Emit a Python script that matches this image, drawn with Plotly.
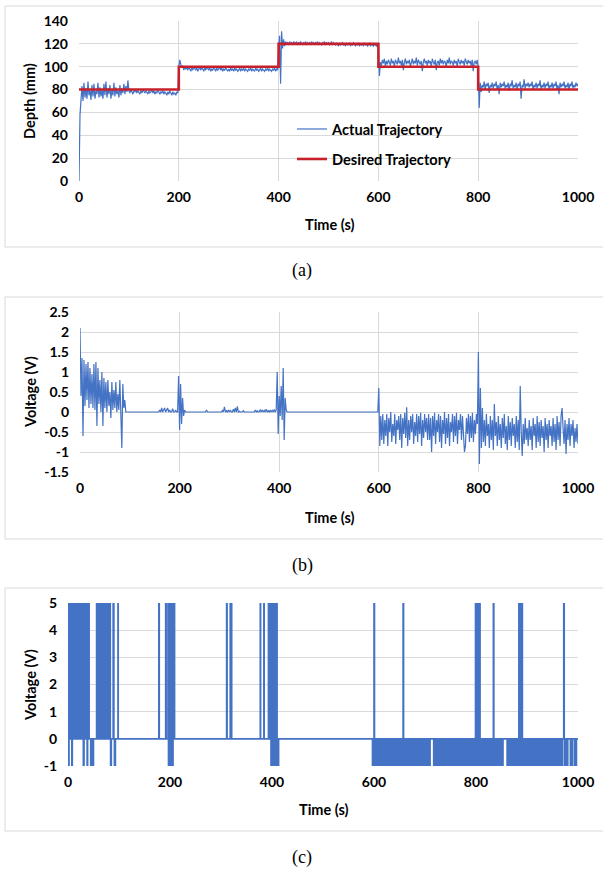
import plotly.graph_objects as go

W, H = 603, 871

# ---------------- (a) depth tracking ----------------
a_desired_time = [0, 200, 200, 400, 400, 600, 600, 800, 800, 1000]
a_desired_depth = [80, 80, 100, 100, 120, 120, 100, 100, 80, 80]

# actual depth, sampled every 2 s from 0 to 1000 s
a_actual_depth = [
    0, 58, 71, 83, 70, 86, 73, 81, 72, 87, 75, 80, 71, 84, 74, 85, 72, 79, 76, 86,
    73, 82, 74, 80, 72, 85, 75, 87, 73, 81, 76, 84, 72, 80, 75, 86, 74, 82, 76, 79,
    73, 84, 75, 81, 77, 85, 76, 83, 78, 88,
    79, 77, 80, 78, 76, 79, 78, 80, 77, 79, 78, 76, 79, 77, 80, 78, 77, 79, 78, 76,
    79, 77, 78, 80, 77, 79, 76, 78, 77, 79, 78, 76, 78, 77, 79, 76, 78, 77, 75, 78,
    76, 79, 77, 75, 78, 76, 77, 75, 78, 77,
    100, 106, 102, 99, 101, 97, 100, 98, 99, 97, 100, 98, 96, 99, 97, 100, 98, 97, 99, 96,
    98, 100, 97, 99, 98, 96, 99, 97, 100, 98, 97, 99, 96, 98, 97, 99, 98, 96, 99, 97,
    98, 100, 97, 99, 96, 98, 97, 99, 98, 96,
    98, 96, 99, 97, 98, 96, 99, 97, 98, 96, 97, 99, 96, 98, 97, 99, 96, 98, 97, 96,
    98, 97, 99, 96, 98, 97, 96, 99, 97, 98, 96, 97, 99, 96, 98, 97, 96, 98, 97, 99,
    96, 98, 97, 96, 98, 97, 99, 96, 98, 97,
    115, 127, 85, 131, 116, 124, 118, 122, 120, 121, 119, 122, 120, 121, 119, 122, 121, 120, 122, 119,
    121, 120, 122, 121, 119, 121, 120, 122, 119, 121, 120, 121, 119, 122, 120, 121, 119, 121, 120, 122,
    119, 121, 120, 119, 121, 120, 122, 119, 121, 120,
    121, 119, 120, 122, 119, 121, 120, 119, 121, 120, 118, 121, 119, 120, 121, 119, 120, 118, 121, 119,
    120, 121, 118, 120, 119, 121, 120, 118, 120, 119, 121, 118, 120, 119, 120, 118, 121, 119, 120, 118,
    119, 121, 118, 120, 119, 118, 120, 119, 118, 120,
    118, 92, 104, 101, 106, 103, 107, 100, 105, 102, 106, 104, 101, 107, 103, 105, 100, 106, 104, 102,
    108, 103, 105, 101, 106, 97, 104, 107, 102, 105, 103, 106, 100, 104, 107, 102, 105, 103, 108, 101,
    106, 104, 102, 105, 96, 104, 107, 103, 105, 101,
    106, 103, 105, 100, 107, 104, 102, 106, 97, 104, 105, 101, 107, 103, 106, 102, 105, 104, 100, 106,
    103, 108, 102, 105, 104, 101, 106, 103, 105, 100, 107, 104, 102, 106, 103, 105, 101, 107, 104, 102,
    106, 103, 105, 101, 106, 96, 104, 105, 102, 106,
    100, 64, 86, 78, 84, 82, 87, 80, 85, 83, 86, 77, 84, 82, 86, 81, 85, 83, 87, 80,
    84, 76, 86, 82, 85, 83, 87, 81, 84, 82, 86, 79, 85, 83, 88, 81, 84, 82, 86, 80,
    85, 83, 87, 72, 84, 82, 89, 81, 85, 83,
    86, 82, 85, 83, 87, 80, 84, 82, 86, 81, 85, 83, 88, 80, 84, 82, 86, 81, 85, 83,
    87, 80, 84, 82, 86, 81, 85, 83, 87, 80, 84, 76, 86, 82, 85, 83, 87, 81, 84, 82,
    86, 80, 85, 83, 87, 81, 84, 82, 86, 83, 85,
]
a_actual_time = [2 * i for i in range(len(a_actual_depth))]

# ---------------- (b) control voltage ----------------
b_voltage = [
    2.1, 0.4, 1.35, -0.6, 1.3, 0.15, 1.2, 0.3, 1.25, 0.1, 1.1, 0.2, 0.95, 0.1, 1.2, 0.05, 1.25, -0.35, 1.1, 0.2,
    0.8, 0.0, 1.0, -0.35, 0.85, 0.1, 0.75, 0.0, 0.8, 0.15, 0.5, -0.15, 0.75, 0.05, 0.55, 0.1, 0.75, 0.0, 0.45, 0.05,
    0.8, 0.0, -0.9, 0.7, 0.1, 0.3, 0.0, 0.0, 0.0, 0.0,
    0, 0, 0, 0, 0, 0, 0, 0, 0, 0, 0, 0, 0, 0, 0, 0, 0, 0, 0, 0,
    0, 0, 0, 0, 0, 0, 0, 0, 0, 0, 0.05, 0, 0.1, 0, 0.05, 0.1, 0, 0.05, 0.1, 0,
    0.05, 0, 0, 0.08, 0, 0, 0.05, 0, 0, 0.9,
    -0.45, 0.7, -0.3, 0.35, -0.1, 0.05, 0, 0, 0, 0, 0, 0, 0, 0, 0, 0, 0, 0, 0, 0,
    0, 0, 0, 0, 0, 0, 0, 0.05, 0, 0, 0, 0, 0, 0, 0, 0, 0, 0, 0, 0,
    0, 0, 0, 0.04, 0, 0.13, 0, 0.03, 0, 0.05,
    0, 0.05, 0, 0, 0.07, 0, 0.1, 0, 0.14, 0, 0.02, 0, 0, 0, 0.03, 0, 0, 0, 0, 0,
    0, 0, 0, 0, 0, 0, 0.05, 0, 0.03, 0, 0, 0.06, 0, 0.05, 0, 0.04, 0, 0.07, 0, 0.03,
    0, 0.05, 0, 0.04, 0, 0.06, 0, 0.05, 1.0, -0.55,
    0.4, -0.1, 0.65, -0.2, 1.1, -0.7, 0.35, 0.05, 0, 0, 0, 0, 0, 0, 0, 0, 0, 0, 0, 0,
    0, 0, 0, 0, 0, 0, 0, 0, 0, 0, 0, 0, 0, 0, 0, 0, 0, 0, 0, 0,
    0, 0, 0, 0, 0, 0, 0, 0, 0, 0,
    0, 0, 0, 0, 0, 0, 0, 0, 0, 0, 0, 0, 0, 0, 0, 0, 0, 0, 0, 0,
    0, 0, 0, 0, 0, 0, 0, 0, 0, 0, 0, 0, 0, 0, 0, 0, 0, 0, 0, 0,
    0, 0, 0, 0, 0, 0, 0, 0, 0, 0,
    0.6, -0.85, -0.1, -0.7, -0.05, -0.8, -0.2, -0.6, -0.05, -0.85, -0.15, -0.5, 0.0, -0.75, -0.3, -0.6, -0.05, -0.8, -0.2, -0.45,
    -0.1, -0.7, -0.05, -0.9, -0.15, -0.55, -0.02, -0.65, 0.12, -0.85, -0.2, -0.7, -0.1, -0.5, -0.05, -0.8, -0.25, -0.6, -0.05, -0.75,
    -0.1, -0.55, -0.02, -0.85, -0.2, -0.65, -0.05, -0.5, -0.15, -0.7,
    -0.05, -0.7, -0.15, -1.0, -0.1, -0.6, -0.02, -0.8, -0.2, -0.5, -0.05, -0.75, -0.1, -0.9, -0.2, -0.55, 0.0, -0.8, -0.15, -0.65,
    -0.05, -0.85, -0.25, -0.5, -0.05, -0.75, -0.1, -0.6, -0.02, -0.8, -0.2, -0.45, -0.05, -0.7, -0.1, -0.6, -1.0, -0.85, -0.15, -0.55,
    -0.05, -0.75, -0.1, -0.65, -0.02, -0.75, -0.2, -0.55, -0.05, -0.3,
    1.5, -1.3, 0.6, -0.9, 0.1, -0.75, -0.2, -0.85, -0.05, -0.6, -0.3, -0.9, -0.1, -0.7, -0.2, -0.95, 0.2, -0.6, -0.25, -0.85,
    -0.1, -0.7, -0.3, -0.9, -0.15, -0.65, -0.05, -0.8, -0.35, -0.95, -0.1, -0.7, -0.25, -0.85, -0.15, -0.6, -0.3, -0.9, -0.1, -0.75,
    -0.2, -0.95, 0.65, -0.5, -1.1, -0.3, -0.8, -0.15, -0.7, -0.4,
    -0.85, -0.2, -0.7, -0.35, -0.95, -0.15, -0.6, -0.3, -0.9, -0.1, -0.75, -0.25, -0.85, -0.2, -0.65, -0.35, -1.0, -0.15, -0.7, -0.3,
    -0.9, -0.2, -0.6, -0.35, -0.85, -0.15, -0.75, -0.3, -0.95, -0.1, -0.7, -0.25, -0.85, -0.1, 0.1, -0.4, -0.8, -0.2, -1.05, -0.3,
    -0.7, -0.15, -0.85, -0.3, -0.6, -0.2, -0.9, -0.4, -0.75, -0.3, -0.8,
]
b_time = [2 * i for i in range(len(b_voltage))]

# ---------------- (c) switching voltage: pulses from the 0 V baseline ----------------
c_high_start = [0, 2, 4, 6, 9, 11, 13, 15, 17, 19, 21, 23, 25, 27, 29, 32, 34, 36, 38.5, 41,
                56, 58, 60, 62, 64, 66, 68, 70, 72, 74, 76, 78, 80, 82, 88.5, 98,
                178, 191.5, 196, 198, 200, 202, 204, 206, 208,
                311, 318, 320,
                377, 384, 393, 395, 397, 399, 401, 403, 405, 407, 409,
                600, 657, 799, 801, 803, 805, 807, 834, 884, 886, 888, 890, 972]
c_high_end = [1, 3, 5, 7, 10, 12, 14, 16, 18, 20, 22, 24, 26, 28, 30, 33, 35, 37, 39.5, 41.5,
              57, 59, 61, 63, 65, 67, 69, 71, 73, 75, 77, 79, 80.5, 83, 90, 98.5,
              179, 192.5, 197, 199, 201, 203, 205, 207, 209,
              312, 318.5, 321,
              377.7, 384.7, 394, 396, 398, 400, 402, 404, 406, 408, 410,
              601, 658, 800, 802, 804, 806, 808, 835, 885, 887, 889, 891, 973]
c_low_start = [1, 7.5, 30, 37.5, 44.5, 46.5, 49, 83.5, 91,
               197, 199, 201, 203, 205,
               398, 400, 402, 404, 406, 408, 410, 412,
               597, 598.5,
               601, 603, 605, 607, 609, 613, 615, 617, 619, 623, 625, 627, 629, 631, 633, 635, 637,
               641, 643, 645, 649, 651, 653, 655, 659, 661, 665, 667, 671, 673, 675, 677, 679, 681,
               683, 685, 687, 691, 693, 695, 697, 699, 701, 703, 705, 707, 709,
               717, 719, 721, 723, 725, 727, 729, 733, 735, 737, 739, 741, 745, 747, 749, 751, 753,
               755, 759, 761, 763, 767, 769, 771, 773, 777, 779, 783, 785, 787, 789, 791, 793, 795, 797,
               800, 802, 804, 806, 808,
               810, 814, 816, 820, 822, 824, 826, 828, 830, 832, 836, 838, 842, 844, 846, 848, 850, 852,
               861, 863, 865, 867, 871, 873, 875, 877, 879, 881, 883, 885, 887, 889, 891, 893, 895, 897, 899, 901,
               903, 907, 909, 911, 913, 915, 919, 921, 923, 925, 927, 929, 933, 935, 937, 939, 943, 945,
               947, 949, 951, 953, 957, 959, 961, 965, 967, 969, 974, 976, 979, 985, 988, 993, 996]
c_low_end = [2, 8.5, 31.5, 38.5, 45.5, 47.5, 50, 85, 93,
             198, 200, 202, 204, 206,
             399, 401, 403, 405, 407, 409, 411, 413,
             598, 599.5,
             602, 604, 606, 608, 610, 614, 616, 618, 620, 624, 626, 628, 630, 632, 634, 636, 638,
             642, 644, 646, 650, 652, 654, 656, 660, 662, 666, 668, 672, 674, 676, 678, 680, 682,
             684, 686, 688, 692, 694, 696, 698, 700, 702, 704, 706, 708, 710,
             718, 720, 722, 724, 726, 728, 730, 734, 736, 738, 740, 742, 746, 748, 750, 752, 754,
             756, 760, 762, 764, 768, 770, 772, 774, 778, 780, 784, 786, 788, 790, 792, 794, 796, 798,
             801, 803, 805, 807, 809,
             811, 815, 817, 821, 823, 825, 827, 829, 831, 833, 837, 839, 843, 845, 847, 849, 851, 853,
             862, 864, 866, 868, 872, 874, 876, 878, 880, 882, 884, 886, 888, 890, 892, 894, 896, 898, 900, 902,
             904, 908, 910, 912, 914, 916, 920, 922, 924, 926, 928, 930, 934, 936, 938, 940, 944, 946,
             948, 950, 952, 954, 958, 960, 962, 966, 968, 970, 975, 977, 980, 986, 989, 994, 997]
c_high_level = 5
c_low_level = -1

# tick labels
a_yticks = [0, 20, 40, 60, 80, 100, 120, 140]
b_yticks = [-1.5, -1, -0.5, 0, 0.5, 1, 1.5, 2, 2.5]
b_yticktext = ["-1.5", "-1", "-0.5", "0", "0.5", "1", "1.5", "2", "2.5"]
c_yticks = [-1, 0, 1, 2, 3, 4, 5]
c_yticktext = ["-1", "0", "1", "2", "3", "4", "5"]
x_ticks = [0, 200, 400, 600, 800, 1000]

assert len(c_high_start) == len(c_high_end)
assert len(c_low_start) == len(c_low_end)

pulses = sorted([(s, e, c_high_level) for s, e in zip(c_high_start, c_high_end)] +
                [(s, e, c_low_level) for s, e in zip(c_low_start, c_low_end)])
c_time, c_volt = [0], [0]
for s, e, lv in pulses:
    c_time += [s, e]
    c_volt += [lv, 0]
c_time.append(1000)
c_volt.append(0)

BLUE = "#4472C4"
RED = "#C8202B"
GRID = "#D9D9D9"

fig = go.Figure()
fig.add_trace(go.Scatter(x=a_actual_time, y=a_actual_depth, mode="lines", name="Actual Trajectory",
                         line=dict(color=BLUE, width=1.2), legendgroup="g1",
                         xaxis="x", yaxis="y"))
fig.add_trace(go.Scatter(x=a_desired_time, y=a_desired_depth, mode="lines", name="Desired Trajectory",
                         line=dict(color=RED, width=2.6), legendgroup="g2",
                         xaxis="x", yaxis="y"))
fig.add_trace(go.Scatter(x=b_time, y=b_voltage, mode="lines", showlegend=False,
                         line=dict(color=BLUE, width=1.2), xaxis="x2", yaxis="y2"))
fig.add_trace(go.Scatter(x=c_time, y=c_volt, mode="lines", showlegend=False, line_shape="hv",
                         line=dict(color=BLUE, width=1.6), xaxis="x3", yaxis="y3"))


def py(p):
    return 1 - p / H


def px(p):
    return p / W


tickfont = dict(family="Lato", size=14, color="black", weight="bold")
common = dict(showline=False, zeroline=False, ticks="", tickfont=tickfont, automargin=False,
              gridcolor=GRID, gridwidth=1, fixedrange=True)

fig.update_layout(
    width=W, height=H, margin=dict(l=0, r=0, t=0, b=0, autoexpand=False),
    paper_bgcolor="white", plot_bgcolor="white",
    xaxis=dict(domain=[px(79), px(578)], range=[0, 1000], tickvals=x_ticks, anchor="y",
               ticklabelstandoff=6, showgrid=True, **common),
    yaxis=dict(domain=[py(181), py(21)], range=[0, 140], tickvals=a_yticks, anchor="x",
               ticklabelstandoff=10, showgrid=True, **common),
    xaxis2=dict(domain=[px(80), px(578)], range=[0, 1000], tickvals=x_ticks, anchor="y2",
                ticklabelstandoff=6, showgrid=True, **common),
    yaxis2=dict(domain=[py(472), py(312)], range=[-1.5, 2.5], tickvals=b_yticks, ticktext=b_yticktext,
                anchor="x2", ticklabelstandoff=10, showgrid=True, **common),
    xaxis3=dict(domain=[px(68), px(578)], range=[0, 1000], tickvals=x_ticks, anchor="y3",
                ticklabelstandoff=6, showgrid=False, **common),
    yaxis3=dict(domain=[py(766), py(603)], range=[-1, 5], tickvals=c_yticks, ticktext=c_yticktext,
                anchor="x3", ticklabelstandoff=10, showgrid=True, **common),
    legend=dict(x=px(292), y=py(113), xanchor="left", yanchor="top",
                font=dict(family="Lato", size=14.6, color="black", weight="bold"),
                bgcolor="rgba(0,0,0,0)", tracegroupgap=8, traceorder="grouped", itemwidth=30),
)

title_font = dict(family="Lato", size=14.5, color="black", weight="bold")
cap_font = dict(family="Liberation Serif", size=18, color="black")
ann = []
for txt, x, y in [("Time (s)", 330, 224), ("Time (s)", 330, 517), ("Time (s)", 324, 809)]:
    ann.append(dict(text=txt, x=px(x), y=py(y), xref="paper", yref="paper", showarrow=False,
                    font=title_font, xanchor="center", yanchor="middle"))
for txt, y in [("Depth (mm)", 101), ("Voltage (V)", 392), ("Voltage (V)", 685)]:
    ann.append(dict(text=txt, x=px(30), y=py(y), xref="paper", yref="paper", showarrow=False,
                    font=title_font, textangle=-90, xanchor="center", yanchor="middle"))
for txt, y in [("(a)", 270), ("(b)", 565), ("(c)", 857)]:
    ann.append(dict(text=txt, x=px(302), y=py(y), xref="paper", yref="paper", showarrow=False,
                    font=cap_font, xanchor="center", yanchor="middle"))
fig.update_layout(annotations=ann)

shapes = []
for top, bot in [(6, 247), (297, 539), (588, 831)]:
    shapes.append(dict(type="rect", xref="paper", yref="paper", x0=px(5), x1=1.02,
                       y0=py(bot), y1=py(top), line=dict(color=GRID, width=1), layer="below"))
fig.update_layout(shapes=shapes)

fig.write_html("out.html", config={"displayModeBar": False},
               post_script="document.body.style.margin='0px';document.body.style.overflow='hidden';")
